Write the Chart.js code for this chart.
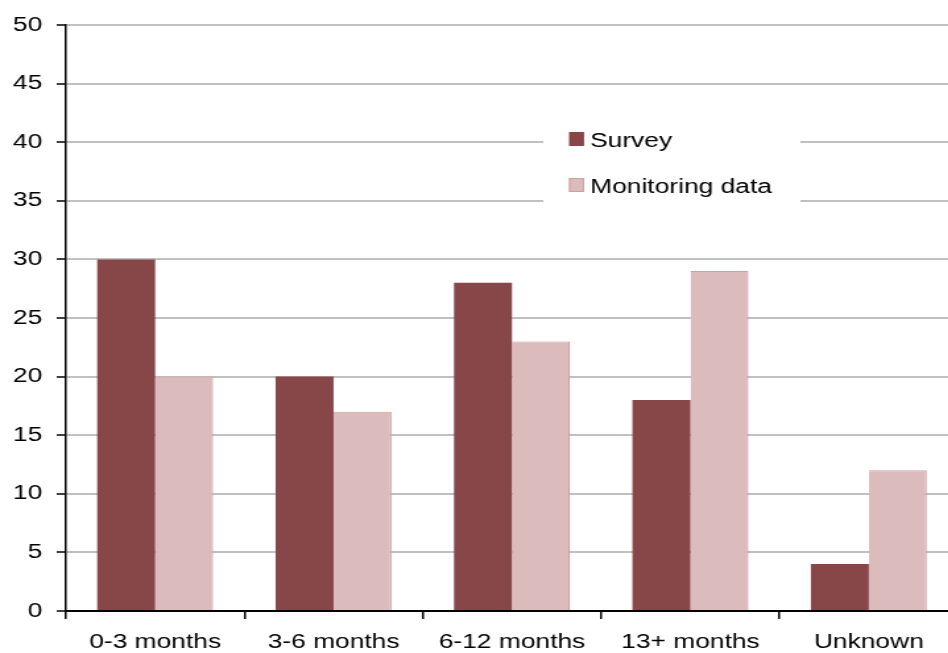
<!DOCTYPE html>
<html>
<head>
<meta charset="utf-8">
<script src="https://cdn.jsdelivr.net/npm/chart.js@4"></script>
<style>
  html, body { margin: 0; padding: 0; background: #fff; overflow: hidden; }
  /* the chart is laid out narrow and widened, which gives the wide lettering */
  #wrap { position: relative; width: 728px; height: 653px; transform: scaleX(1.3187); transform-origin: 0 0; }
</style>
</head>
<body>
<div id="wrap"><canvas id="durationChart"></canvas></div>
<script>
const categories = ["0-3 months", "3-6 months", "6-12 months", "13+ months", "Unknown"];
const surveyValues = [30, 20, 28, 18, 4];
const monitoringValues = [20, 17, 23, 29, 12];
const seriesNames = ["Survey", "Monitoring data"];

const FONT = "'Liberation Sans', Arial, sans-serif";

// legend drawn as a white box sitting on top of the gridlines
const boxLegend = {
  id: "boxLegend",
  afterDatasetsDraw(chart) {
    const ctx = chart.ctx;
    ctx.save();
    ctx.fillStyle = "#ffffff";
    ctx.fillRect(412, 112, 195, 96);
    ctx.font = "20px " + FONT;
    ctx.textBaseline = "alphabetic";
    chart.data.datasets.forEach((ds, i) => {
      const y = 132 + i * 46;
      ctx.fillStyle = ds.backgroundColor;
      ctx.fillRect(431.5, y, 11.4, 14);
      if (ds.borderColor && i > 0) {
        ctx.strokeStyle = ds.borderColor;
        ctx.lineWidth = 1;
        ctx.strokeRect(432, y + 0.5, 10.4, 13);
      }
      ctx.fillStyle = "#000";
      ctx.fillText(ds.label, 447.5, y + 15);
    });
    ctx.restore();
  }
};

new Chart(document.getElementById("durationChart"), {
  type: "bar",
  data: {
    labels: categories,
    datasets: [
      { label: seriesNames[0], data: surveyValues, backgroundColor: "#874648", borderWidth: 0 },
      { label: seriesNames[1], data: monitoringValues, backgroundColor: "#dbbbbc",
        borderColor: "#cfa0a2", borderWidth: { right: 1.2, top: 1, left: 0, bottom: 0 } },
    ],
  },
  options: {
    responsive: true,
    maintainAspectRatio: false,
    animation: false,
    devicePixelRatio: 1,
    layout: { padding: { left: 0, right: 1.5, top: 25, bottom: 0 } },
    datasets: { bar: { categoryPercentage: 0.65, barPercentage: 1.0 } },
    plugins: { legend: { display: false }, tooltip: { enabled: false } },
    scales: {
      x: {
        offset: true,
        grid: { offset: true, drawOnChartArea: false, drawTicks: true, tickLength: 8, color: "#000", lineWidth: 1.5 },
        border: { display: true, color: "#000", width: 2 },
        ticks: { color: "#000", font: { family: FONT, size: 20 }, padding: 11, maxRotation: 0 },
        afterFit(scale) { scale.height = 42; },
      },
      y: {
        min: 0,
        max: 50,
        ticks: { stepSize: 5, color: "#000", font: { family: FONT, size: 20 }, padding: 11 },
        grid: { color: "#c0c0c0", lineWidth: 2, tickLength: 7, tickColor: "#000", tickWidth: 1.5 },
        border: { display: true, color: "#000", width: 1.5 },
        afterFit(scale) { scale.width = 50; },
      },
    },
  },
  plugins: [boxLegend],
});
</script>
</body>
</html>
